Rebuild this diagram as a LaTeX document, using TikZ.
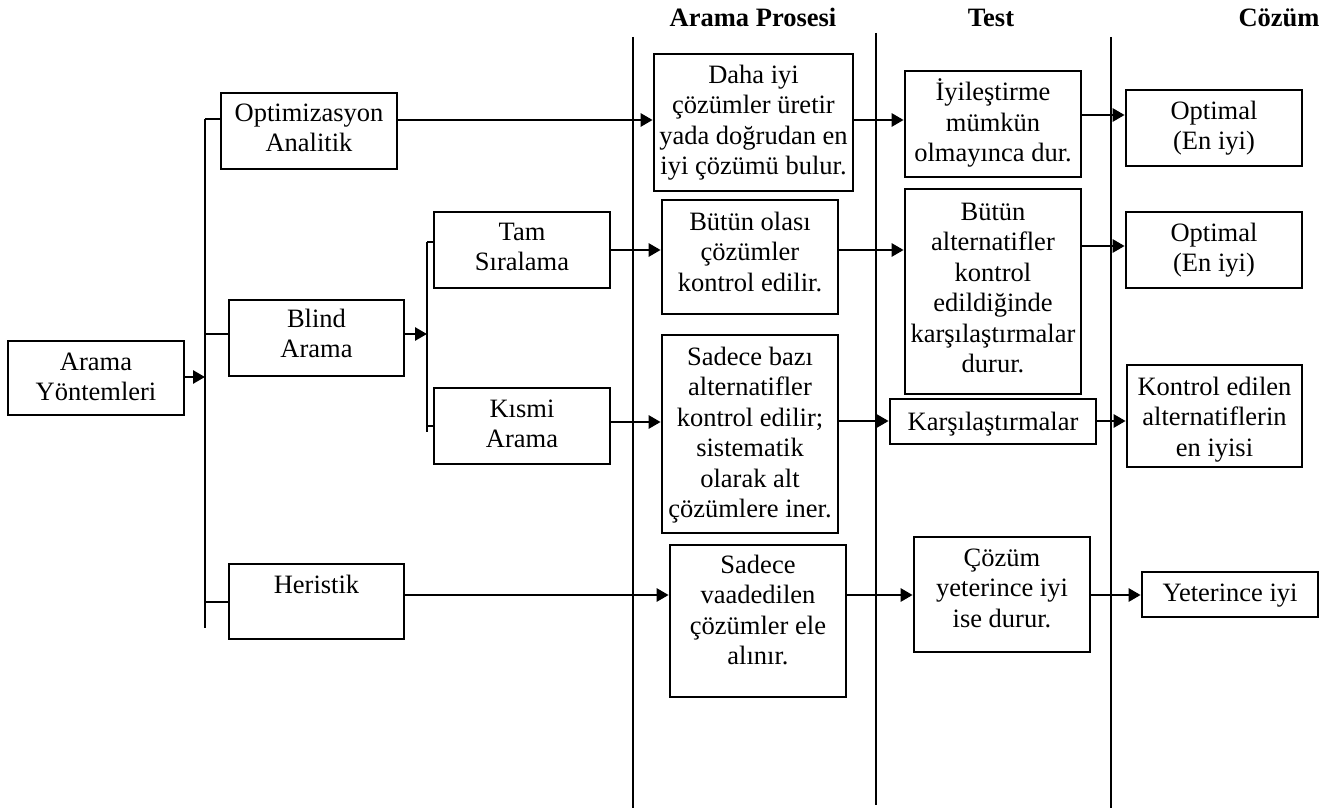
\documentclass[tikz,border=0pt]{standalone}
\usepackage{fontspec}
\setmainfont{Liberation Serif}
\usetikzlibrary{arrows.meta,fit}
\tikzset{
  boxst/.style={draw, line width=2.7pt, inner sep=0pt},
  txt/.style={font=\fontsize{26.5}{30.5}\selectfont, align=center, inner sep=0pt},
  hdr/.style={font=\fontsize{26.5}{30.5}\selectfont\bfseries, inner sep=0pt, anchor=base},
  conn/.style={line width=2.7pt},
  arr/.style={line width=2.7pt, -{Triangle[length=12pt,width=13pt]}},
  lane/.style={line width=2.7pt},
}
\newcommand\mkbox[7]{%
  \node[boxst, fit={(#2,#3) (#4,#5)}] (#1) {};
  \pgfmathsetmacro\tmpx{(#2+#4)/2}%
  \pgfmathsetmacro\tmpy{#6-13.4}%
  \node[txt, anchor=north] (#1-t) at (\tmpx,\tmpy) {\strut #7};
}
\begin{document}
\begin{tikzpicture}[x=1pt,y=-1pt]
\useasboundingbox (0,0) rectangle (1320,810);
% headers
\node[hdr] (h1) at (753,27) {Arama Prosesi};
\node[hdr] (h2) at (991,27) {Test};
\node[hdr] (h3) at (1279,27) {Cözüm};
% lanes
\coordinate (l1a) at (633,37); \coordinate (l1b) at (633,808);
\coordinate (l2a) at (876,33); \coordinate (l2b) at (876,805);
\coordinate (l3a) at (1111,37); \coordinate (l3b) at (1111,808);
\draw[lane] (l1a) -- (l1b);
\draw[lane] (l2a) -- (l2b);
\draw[lane] (l3a) -- (l3b);
% boxes
\mkbox{aramay}{8}{341}{184}{415}{362}{Arama\\Yöntemleri}
\mkbox{opt}{221}{93}{397}{169}{113}{Optimizasyon\\Analitik}
\mkbox{blind}{229}{300}{404}{376}{319}{Blind\\Arama}
\mkbox{heur}{229}{564}{404}{639}{585}{Heristik}
\mkbox{tam}{434}{212}{610}{288}{232}{Tam\\Sıralama}
\mkbox{kismi}{434}{388}{610}{464}{409}{Kısmi\\Arama}
\mkbox{daha}{654}{54}{853}{191}{75}{Daha iyi\\çözümler üretir\\yada doğrudan en\\iyi çözümü bulur.}
\mkbox{butun}{662}{200}{838}{314}{222}{Bütün olası\\çözümler\\kontrol edilir.}
\mkbox{sadb}{662}{335}{838}{533}{357}{Sadece bazı\\alternatifler\\kontrol edilir;\\sistematik\\olarak alt\\çözümlere iner.}
\mkbox{sadv}{670}{545}{846}{697}{565}{Sadece\\vaadedilen\\çözümler ele\\alınır.}
\mkbox{iyil}{905}{71}{1081}{177}{92}{İyileştirme\\mümkün\\olmayınca dur.}
\mkbox{butalt}{905}{189}{1081}{394}{212}{Bütün\\alternatifler\\kontrol\\edildiğinde\\karşılaştırmalar\\durur.}
\mkbox{kars}{890}{399}{1096}{444}{422}{Karşılaştırmalar}
\mkbox{cozum}{914}{537}{1090}{652}{558}{Çözüm\\yeterince iyi\\ise durur.}
\mkbox{opti}{1126}{90}{1302}{166}{111}{Optimal\\(En iyi)}
\mkbox{optii}{1126}{212}{1302}{288}{233}{Optimal\\(En iyi)}
\mkbox{kontrol}{1127}{365}{1302}{467}{387}{Kontrol edilen\\alternatiflerin\\en iyisi}
\mkbox{yet}{1142}{572}{1318}{617}{593}{Yeterince iyi}
% main trunk
\coordinate (trTop) at (205,119);
\coordinate (trBot) at (205,628);
\draw[conn] (trTop) -- (trBot);
\draw[conn] (trTop) -- (trTop -| opt.west);
\draw[conn] (trTop |- 0,334) -- (blind.west |- 0,334);
\draw[conn] (trTop |- 0,602) -- (heur.west |- 0,602);
\draw[arr] (aramay.east |- 0,377) -- (trTop |- 0,377);
% sub trunk
\coordinate (stTop) at (427,242);
\coordinate (stBot) at (427,432);
\draw[conn] (stTop) -- (stBot);
\draw[conn] (stTop) -- (stTop -| tam.west);
\draw[conn] (stTop |- 0,426) -- (kismi.west |- 0,426);
\draw[arr] (blind.east |- 0,334) -- (stTop |- 0,334);
% flows
\draw[arr] (opt.east |- 0,120) -- (daha.west |- 0,120);
\draw[arr] (daha.east |- 0,120) -- (iyil.west |- 0,120);
\draw[arr] (iyil.east |- 0,115) -- (opti.west |- 0,115);
\draw[arr] (tam.east |- 0,250) -- (butun.west |- 0,250);
\draw[arr] (butun.east |- 0,250) -- (butalt.west |- 0,250);
\draw[arr] (butalt.east |- 0,246) -- (optii.west |- 0,246);
\draw[arr] (kismi.east |- 0,422) -- (sadb.west |- 0,422);
\draw[arr] (sadb.east |- 0,421) -- (kars.west |- 0,421);
\draw[arr] (kars.east |- 0,421) -- (kontrol.west |- 0,421);
\draw[arr] (heur.east |- 0,595) -- (sadv.west |- 0,595);
\draw[arr] (sadv.east |- 0,595) -- (cozum.west |- 0,595);
\draw[arr] (cozum.east |- 0,595) -- (yet.west |- 0,595);
\end{tikzpicture}
\end{document}
